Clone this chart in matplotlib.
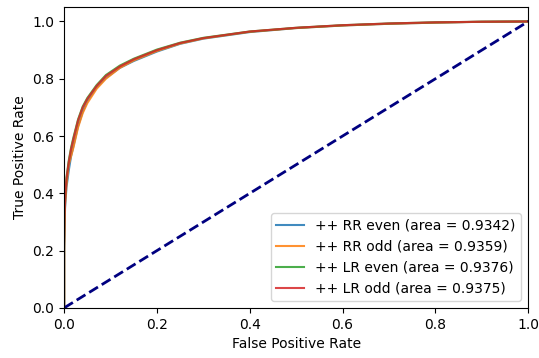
import matplotlib.pyplot as plt

# ROC curves
fpr = [0.0, 0.0, 0.001, 0.002, 0.005, 0.01, 0.015, 0.02, 0.03, 0.04, 0.05,
       0.07, 0.09, 0.12, 0.15, 0.2, 0.25, 0.3, 0.4, 0.5, 0.6, 0.7, 0.8, 0.9, 1.0]

tpr_rr_even = [0.0, 0.20, 0.29, 0.35, 0.42, 0.48, 0.53, 0.565, 0.635, 0.685, 0.722,
               0.77, 0.803, 0.838, 0.862, 0.895, 0.922, 0.94, 0.963, 0.977, 0.986, 0.992, 0.996, 0.999, 1.0]
tpr_rr_odd = [0.0, 0.21, 0.30, 0.36, 0.43, 0.50, 0.53, 0.56, 0.63, 0.68, 0.715,
              0.765, 0.80, 0.838, 0.864, 0.897, 0.923, 0.941, 0.964, 0.977, 0.986, 0.992, 0.996, 0.999, 1.0]
tpr_lr_even = [0.0, 0.22, 0.325, 0.385, 0.455, 0.515, 0.56, 0.595, 0.658, 0.703, 0.733,
               0.778, 0.813, 0.846, 0.87, 0.902, 0.926, 0.943, 0.965, 0.978, 0.987, 0.993, 0.997, 0.999, 1.0]
tpr_lr_odd = [0.0, 0.22, 0.32, 0.38, 0.45, 0.51, 0.555, 0.59, 0.655, 0.70, 0.73,
              0.775, 0.81, 0.843, 0.868, 0.90, 0.925, 0.942, 0.965, 0.978, 0.987, 0.993, 0.997, 0.999, 1.0]

labels = ["++ RR even (area = 0.9342)",
          "++ RR odd (area = 0.9359)",
          "++ LR even (area = 0.9376)",
          "++ LR odd (area = 0.9375)"]

plt.rcParams['font.size'] = 10

fig = plt.figure(figsize=(5.39, 3.58), dpi=100)
ax = fig.add_axes([0.119, 0.14, 0.861, 0.84])

for tpr, lab in zip([tpr_rr_even, tpr_rr_odd, tpr_lr_even, tpr_lr_odd], labels):
    ax.plot(fpr, tpr, lw=1.5, alpha=0.85, label=lab)

ax.plot([0, 1], [0, 1], color='navy', lw=2, linestyle='--')

ax.set_xlim([0.0, 1.0])
ax.set_ylim([0.0, 1.05])
ax.set_xlabel("False Positive Rate")
ax.set_ylabel("True Positive Rate")
ax.legend(loc="lower right")

fig.savefig("out.png", dpi=100)
